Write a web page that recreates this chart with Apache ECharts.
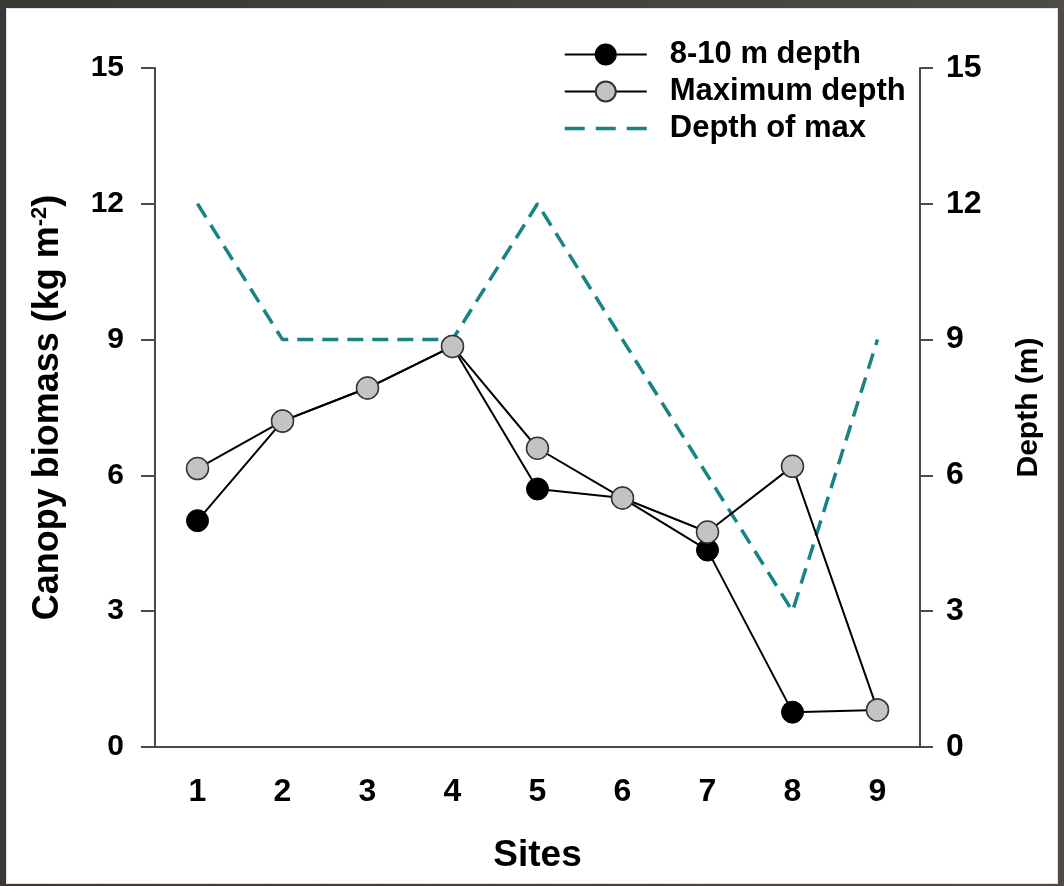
<!DOCTYPE html>
<html>
<head>
<meta charset="utf-8">
<script src="https://cdn.jsdelivr.net/npm/echarts@6/dist/echarts.min.js"></script>
<style>
  html, body { margin: 0; padding: 0; width: 1064px; height: 886px; overflow: hidden;
    background: linear-gradient(90deg, #3b3834, #4e4a45); }
  #chart { position: absolute; left: 6px; top: 8px; width: 1050px; height: 874px;
    background: #ffffff; border: 1px solid #d3e2ec; }
</style>
</head>
<body>
<div id="chart"></div>
<script>
// ---- data ----
var sites = ['1', '2', '3', '4', '5', '6', '7', '8', '9'];
var depth810 = [5.0, 7.2, 7.93, 8.85, 5.7, 5.5, 4.35, 0.77, 0.82];
var maxDepthBiomass = [6.15, 7.2, 7.93, 8.85, 6.6, 5.5, 4.75, 6.2, 0.82];
var depthOfMax = [12, 9, 9, 9, 12, 9, 6, 3, 9];
var seriesNames = ['8-10 m depth', 'Maximum depth', 'Depth of max'];

var FONT = "'Liberation Sans', Arial, sans-serif";
var AX = '#4a4a4a';
var TEAL = '#178383';

var chart = echarts.init(document.getElementById('chart'), null, { renderer: 'canvas' });

var option = {
  animation: false,
  textStyle: { fontFamily: FONT },
  grid: { left: 148, right: 137, top: 59, bottom: 136, containLabel: false },
  legend: {
    data: [
      { name: seriesNames[0] },
      { name: seriesNames[1] },
      { name: seriesNames[2], itemStyle: { opacity: 0 },
        lineStyle: { color: TEAL, width: 3.5, type: [20, 11] } }
    ],
    orient: 'vertical',
    left: 556,
    top: 30,
    padding: 0,
    itemWidth: 82,
    itemHeight: 25,
    itemGap: 6,
    textStyle: { fontFamily: FONT, fontSize: 31, fontWeight: 'bold', color: '#000',
      lineHeight: 31, padding: [0, 0, 0, 18] }
  },
  xAxis: {
    type: 'category',
    data: sites,
    boundaryGap: true,
    name: 'Sites',
    nameLocation: 'middle',
    nameGap: 90,
    nameTextStyle: { fontFamily: FONT, fontSize: 37, fontWeight: 'bold', color: '#000' },
    axisLine: { lineStyle: { color: AX, width: 2 } },
    axisTick: { alignWithLabel: true, length: 11, lineStyle: { color: AX, width: 2 } },
    axisLabel: { margin: 29, fontSize: 32, fontWeight: 'bold', color: '#000', fontFamily: FONT },
    splitLine: { show: false }
  },
  yAxis: [
    {
      type: 'value', min: 0, max: 15, interval: 3, position: 'left',
      name: 'Canopy biomass (kg m{sup|-2})',
      nameLocation: 'middle',
      nameRotate: 90,
      nameGap: 88,
      nameTextStyle: {
        fontFamily: FONT, fontSize: 36, fontWeight: 'bold', color: '#000',
        rich: { sup: { fontFamily: FONT, fontSize: 22, fontWeight: 'bold', color: '#000',
          verticalAlign: 'top', padding: [0, 0, 16, 0] } }
      },
      axisLine: { show: true, lineStyle: { color: AX, width: 2 } },
      axisTick: { show: true, length: 14, lineStyle: { color: AX, width: 2 } },
      axisLabel: { margin: 31, fontSize: 30, fontWeight: 'bold', color: '#000', fontFamily: FONT },
      splitLine: { show: false }
    },
    {
      type: 'value', min: 0, max: 15, interval: 3, position: 'right',
      name: 'Depth (m)',
      nameLocation: 'middle',
      nameRotate: 90,
      nameGap: 94,
      nameTextStyle: { fontFamily: FONT, fontSize: 30, fontWeight: 'bold', color: '#000' },
      axisLine: { show: true, lineStyle: { color: AX, width: 2 } },
      axisTick: { show: true, length: 13, lineStyle: { color: AX, width: 2 } },
      axisLabel: { margin: 26, fontSize: 32, fontWeight: 'bold', color: '#000', fontFamily: FONT },
      splitLine: { show: false }
    }
  ],
  series: [
    {
      name: seriesNames[0],
      type: 'line',
      yAxisIndex: 0,
      data: depth810,
      z: 3,
      symbol: 'circle',
      symbolSize: 22,
      showAllSymbol: true,
      itemStyle: { color: '#000000', borderColor: '#000000', borderWidth: 1 },
      lineStyle: { color: '#000000', width: 2 }
    },
    {
      name: seriesNames[1],
      type: 'line',
      yAxisIndex: 0,
      data: maxDepthBiomass,
      z: 4,
      symbol: 'circle',
      symbolSize: 22,
      showAllSymbol: true,
      itemStyle: { color: '#c3c3c3', borderColor: '#333333', borderWidth: 1.5 },
      lineStyle: { color: '#000000', width: 2 }
    },
    {
      name: seriesNames[2],
      type: 'line',
      yAxisIndex: 1,
      data: depthOfMax,
      z: 2,
      symbol: 'none',
      itemStyle: { color: TEAL },
      lineStyle: { color: TEAL, width: 3.5, type: [16, 9] }
    }
  ]
};
chart.setOption(option);
</script>
</body>
</html>
